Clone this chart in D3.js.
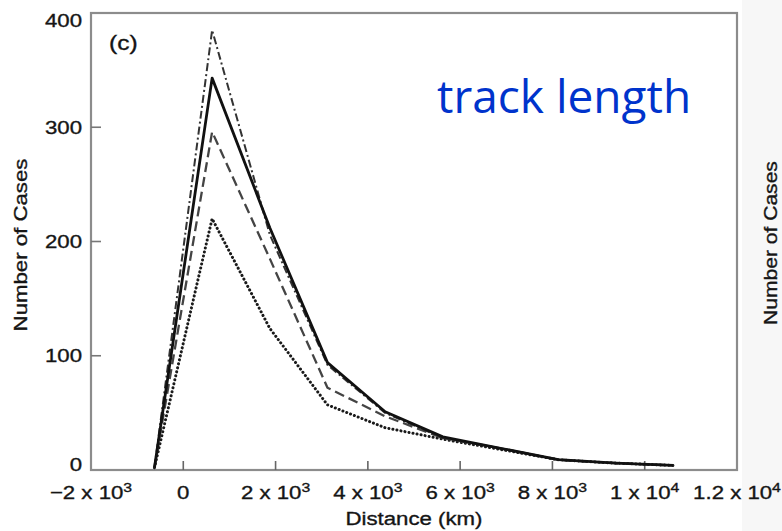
<!DOCTYPE html>
<html>
<head>
<meta charset="utf-8">
<script src="https://cdnjs.cloudflare.com/ajax/libs/d3/7.8.5/d3.min.js"></script>
<style>
  html, body { margin: 0; padding: 0; background: #fff; }
  svg { display: block; }
  .lbl { stroke: #151515; stroke-width: 0.35px; }
</style>
</head>
<body>
<div id="chart"></div>
<script>
// valeurs (c)
const distance = [-625, 625, 1875, 3125, 4375, 5625, 6875, 8125, 9375, 10625];
const solidCases   = [2, 343, 212, 94, 51, 29, 19, 9, 6, 4];
const dashDotCases = [2, 385, 206, 92, 50, 28, 19, 9, 6, 4];
const dashedCases  = [2, 296, 185, 72, 47, 28, 19, 9, 6, 4];
const dottedCases  = [2, 220, 124, 57, 37, 27, 18, 9, 6, 4];

const xTicks = [-2000, 0, 2000, 4000, 6000, 8000, 10000, 12000];
const xTickBase = ['\u22122 x 10', '0', '2 x 10', '4 x 10', '6 x 10', '8 x 10', '1 x 10', '1.2 x 10'];
const xTickExp  = ['3', '', '3', '3', '3', '3', '4', '4'];
const yTicks = [0, 100, 200, 300, 400];

const width = 782, height = 531;
const frame = { left: 91, right: 737, top: 13, bottom: 470 };
const stretchK = 1.17; // le texte de la figure est un peu étiré en largeur

const svg = d3.select('#chart').append('svg')
    .attr('width', width)
    .attr('height', height);

// bande grise du panneau suivant
svg.append('rect')
    .attr('x', 742).attr('y', 0)
    .attr('width', width - 742).attr('height', height)
    .attr('fill', '#f7f7f7');

const x = d3.scaleLinear().domain([-2000, 12000]).range([frame.left, frame.right]);
const y = d3.scaleLinear().domain([0, 400]).range([frame.bottom, frame.top]);

const axisColor = '#8c8c8c';
const font = 'Liberation Sans, Arial, Helvetica, sans-serif';
const textColor = '#151515';

// cadre
svg.append('rect')
    .attr('x', frame.left)
    .attr('y', frame.top)
    .attr('width', frame.right - frame.left)
    .attr('height', frame.bottom - frame.top)
    .attr('fill', 'none')
    .attr('stroke', axisColor)
    .attr('stroke-width', 2.2);

// ticks vers l'intérieur
svg.append('g').selectAll('line')
    .data(xTicks.slice(1, -1))
    .enter().append('line')
    .attr('x1', d => x(d)).attr('x2', d => x(d))
    .attr('y1', frame.bottom).attr('y2', frame.bottom - 9)
    .attr('stroke', '#666').attr('stroke-width', 1.6);

svg.append('g').selectAll('line')
    .data(yTicks.slice(1, -1))
    .enter().append('line')
    .attr('x1', frame.left).attr('x2', frame.left + 10)
    .attr('y1', d => y(d)).attr('y2', d => y(d))
    .attr('stroke', '#777').attr('stroke-width', 1.6);

// labels des ticks X
const xLab = svg.append('g').selectAll('text')
    .data(xTicks)
    .enter().append('text')
    .attr('class', 'lbl')
    .attr('transform', d => `translate(${x(d)},499) scale(${stretchK},1)`)
    .attr('text-anchor', 'middle')
    .attr('font-family', font)
    .attr('font-size', 19)
    .attr('fill', textColor);
xLab.append('tspan').text((d, i) => xTickBase[i]);
xLab.append('tspan')
    .attr('dy', -7)
    .attr('font-size', 13.5)
    .text((d, i) => xTickExp[i]);

// labels des ticks Y
const yNudge = d => d === 400 ? 7 : (d === 0 ? -6 : 0);
svg.append('g').selectAll('text')
    .data(yTicks)
    .enter().append('text')
    .attr('class', 'lbl')
    .attr('transform', d => `translate(82,${y(d) + yNudge(d) + 6.5}) scale(${stretchK},1)`)
    .attr('text-anchor', 'end')
    .attr('font-family', font)
    .attr('font-size', 19)
    .attr('fill', textColor)
    .text(d => d);

// titres des axes
svg.append('text')
    .attr('class', 'lbl')
    .attr('transform', `translate(414,525) scale(${stretchK},1)`)
    .attr('text-anchor', 'middle')
    .attr('font-family', font)
    .attr('font-size', 19)
    .attr('fill', textColor)
    .text('Distance (km)');

svg.append('text')
    .attr('class', 'lbl')
    .attr('transform', `translate(27,245) rotate(-90) scale(${stretchK},1)`)
    .attr('text-anchor', 'middle')
    .attr('font-family', font)
    .attr('font-size', 19)
    .attr('fill', textColor)
    .text('Number of Cases');

// titre du panneau suivant (en bord d'image)
svg.append('text')
    .attr('class', 'lbl')
    .attr('transform', `translate(777,243) rotate(-90) scale(${stretchK},1)`)
    .attr('text-anchor', 'middle')
    .attr('font-family', font)
    .attr('font-size', 18)
    .attr('fill', textColor)
    .text('Number of Cases');

svg.append('text')
    .attr('class', 'lbl')
    .attr('transform', `translate(109,50) scale(${stretchK},1)`)
    .attr('font-family', font)
    .attr('font-size', 21)
    .attr('fill', textColor)
    .text('(c)');

svg.append('text')
    .attr('x', 437)
    .attr('y', 113)
    .attr('font-family', 'Open Sans, Noto Sans, sans-serif')
    .attr('font-size', 46)
    .attr('fill', '#0033cc')
    .text('track length');

// courbes
const series = [
    { name: 'dotted',  values: dottedCases,  stroke: '#1a1a1a', w: 3.0, dash: '0.1,4',   cap: 'round' },
    { name: 'dashed',  values: dashedCases,  stroke: '#444',    w: 2.3, dash: '10,5',    cap: 'butt' },
    { name: 'dashdot', values: dashDotCases, stroke: '#333',    w: 2.0, dash: '8,3,2,3', cap: 'butt' },
    { name: 'solid',   values: solidCases,   stroke: '#111',    w: 2.8, dash: null,      cap: 'butt' }
];

const line = d3.line()
    .x((d, i) => x(distance[i]))
    .y(d => y(d));

svg.append('g').selectAll('path')
    .data(series)
    .enter().append('path')
    .attr('d', d => line(d.values))
    .attr('fill', 'none')
    .attr('stroke', d => d.stroke)
    .attr('stroke-width', d => d.w)
    .attr('stroke-dasharray', d => d.dash)
    .attr('stroke-linecap', d => d.cap)
    .attr('stroke-linejoin', 'round');
</script>
</body>
</html>
